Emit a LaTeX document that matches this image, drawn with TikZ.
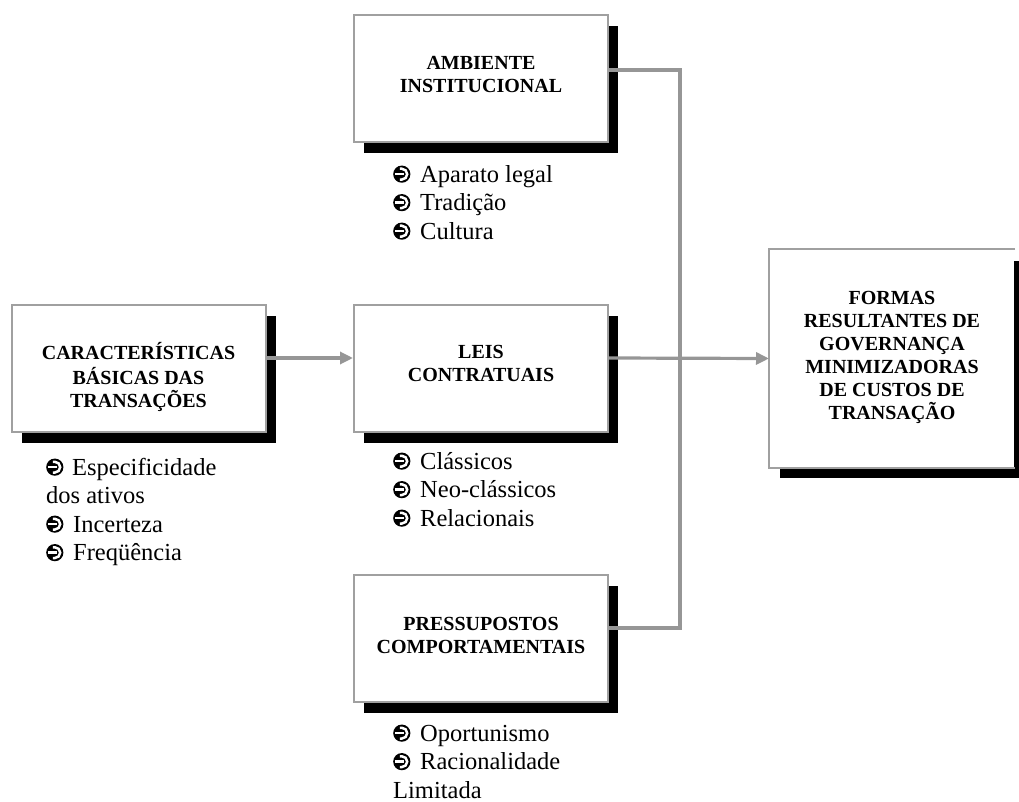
\documentclass[tikz,border=0pt]{standalone}
\usepackage{fontspec}
\setmainfont{Liberation Serif}
\usetikzlibrary{arrows.meta,shadows}
\definecolor{linegray}{RGB}{150,150,150}
\definecolor{boxgray}{RGB}{160,160,160}
\newcommand{\bul}{\makebox[27pt][l]{\tikz[x=1pt,y=1pt,baseline=0pt]{%
  \fill[black] (7,8) circle [radius=8.6pt];
  \draw[white,line width=2.5pt] (0.6,8) -- (9,8);
  \draw[white,line width=2.5pt] (5,13.4) -- (7,13.4) arc [start angle=90,end angle=-90,radius=5.4pt] -- (5,2.6);}}}
\begin{document}
\begin{tikzpicture}[x=1pt,y=-1pt,
  box/.style={draw=boxgray,line width=2pt,fill=white,minimum width=254pt,minimum height=127pt,inner sep=0pt,
    general shadow={fill=black,shadow xshift=10pt,shadow yshift=-11pt}},
  title/.style={anchor=north,align=center,inner sep=0pt,font=\bfseries\fontsize{20}{23}\selectfont},
  list/.style={anchor=north west,align=left,inner sep=0pt,font=\fontsize{24.5}{28.5}\selectfont},
  conn/.style={draw=linegray,line width=3.2pt},
  arr/.style={conn,-{Triangle[length=13pt,width=12pt,fill=linegray]}}]
\useasboundingbox (0,0) rectangle (1019,802);

% boxes
\node[box] (amb) at (481,78.5) {};
\node[box] (car) at (138.5,368) {};
\node[box] (leis) at (481,368) {};
\node[box] (pres) at (481,638.5) {};
\node[box,draw=none,minimum width=244pt,minimum height=217pt] (form) at (892,358.5) {};
\draw[draw=boxgray,line width=2pt] (form.north east) -- (form.north west) -- (form.south west) -- (form.south east);

% titles
\node[title] (tamb) at (481,53) {\strut AMBIENTE\\INSTITUCIONAL};
\node[title] (tcar) at (138.5,342) {\strut CARACTERÍSTICAS\\BÁSICAS DAS\\TRANSAÇÕES};
\node[title] (tleis) at (481,342) {\strut LEIS\\CONTRATUAIS};
\node[title] (tpres) at (481,614) {\strut PRESSUPOSTOS\\COMPORTAMENTAIS};
\node[title] (tform) at (892,288) {\strut FORMAS\\RESULTANTES DE\\GOVERNANÇA\\MINIMIZADORAS\\DE CUSTOS DE\\TRANSAÇÃO};

% lists
\node[list] (lamb) at (393,162) {\strut\bul Aparato legal\\\bul Tradição\\\bul Cultura};
\node[list] (lcar) at (46,455) {\strut\bul\hspace{-1pt}Especificidade\\dos ativos\\\bul Incerteza\\\bul Freqüência};
\node[list] (lleis) at (393,449) {\strut\bul Clássicos\\\bul Neo-clássicos\\\bul Relacionais};
\node[list] (lpres) at (393,721) {\strut\bul Oportunismo\\\bul Racionalidade\\Limitada};

% connectors
\coordinate (j1) at (680,70);
\coordinate (j2) at (680,628);
\draw[arr] ([yshift=10pt]car.east) -- ([yshift=10pt]leis.west);
\draw[arr] ([yshift=10pt]leis.east) -- (form.west);
\draw[conn] ([yshift=8.5pt]amb.east) -- (j1) -- (j2) -- ([yshift=10.5pt]pres.east);
\end{tikzpicture}
\end{document}
